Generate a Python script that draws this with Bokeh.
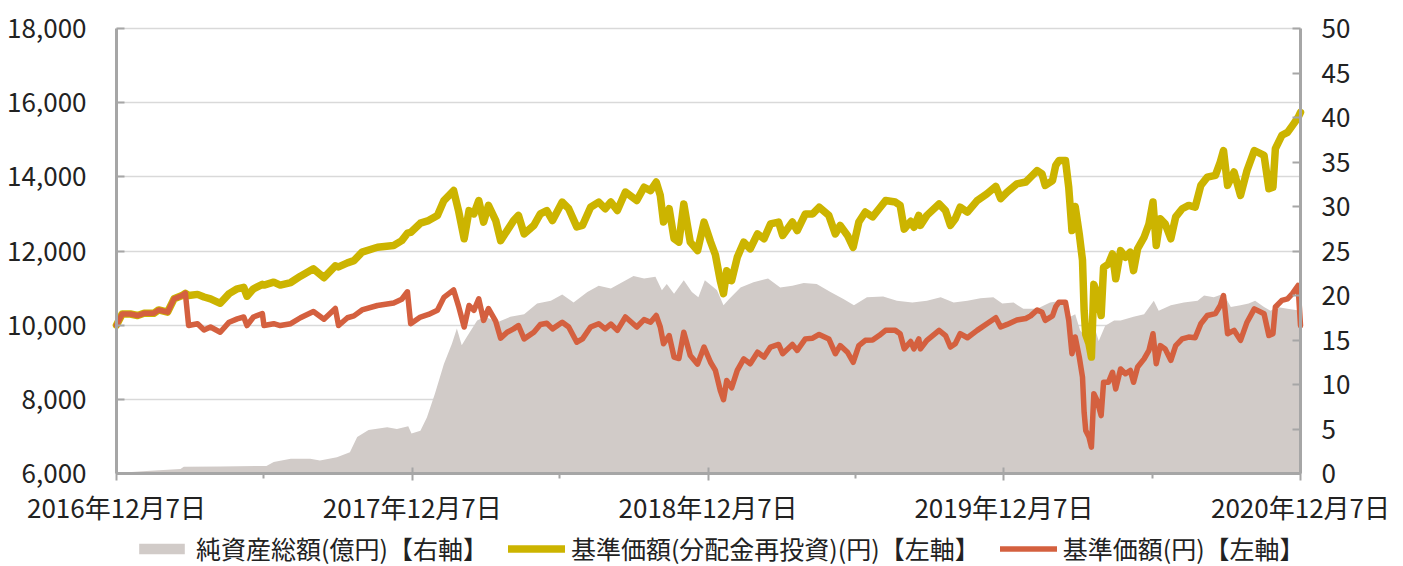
import pandas as pd
from bokeh.plotting import figure
from bokeh.models import (Range1d, LinearAxis, FixedTicker, NumeralTickFormatter,
                          Legend, LegendItem, CustomJSTickFormatter)
from bokeh.embed import file_html
from bokeh.resources import INLINE

# ---------------- data ----------------
dates = [
    "2016-12-07", "2016-12-14", "2016-12-24", "2017-01-02", "2017-01-10", "2017-01-22", "2017-01-28",
    "2017-02-08", "2017-02-16", "2017-02-26", "2017-03-02", "2017-03-06", "2017-03-17", "2017-03-25",
    "2017-04-02", "2017-04-14", "2017-04-25", "2017-05-05", "2017-05-13", "2017-05-17", "2017-05-25",
    "2017-06-05", "2017-06-07", "2017-06-19", "2017-06-27", "2017-07-10", "2017-07-22", "2017-08-07",
    "2017-08-20", "2017-09-03", "2017-09-07", "2017-09-18", "2017-09-26", "2017-10-06", "2017-10-25",
    "2017-11-14", "2017-11-24", "2017-12-01", "2017-12-05", "2017-12-17", "2017-12-27", "2018-01-07",
    "2018-01-15", "2018-01-27", "2018-02-02", "2018-02-09", "2018-02-15", "2018-02-21", "2018-02-27",
    "2018-03-05", "2018-03-11", "2018-03-20", "2018-03-26", "2018-04-03", "2018-04-11", "2018-04-17",
    "2018-04-24", "2018-05-06", "2018-05-14", "2018-05-22", "2018-05-29", "2018-06-10", "2018-06-18",
    "2018-06-28", "2018-07-05", "2018-07-15", "2018-07-25", "2018-08-02", "2018-08-09", "2018-08-17",
    "2018-08-27", "2018-09-10", "2018-09-19", "2018-09-27", "2018-10-04", "2018-10-09", "2018-10-13",
    "2018-10-20", "2018-10-26", "2018-11-01", "2018-11-07", "2018-11-15", "2018-11-24", "2018-12-02",
    "2018-12-10", "2018-12-16", "2018-12-22", "2018-12-26", "2018-12-30", "2019-01-05", "2019-01-12",
    "2019-01-20", "2019-01-28", "2019-02-06", "2019-02-14", "2019-02-22", "2019-03-04", "2019-03-09",
    "2019-03-21", "2019-03-27", "2019-04-06", "2019-04-15", "2019-04-23", "2019-05-05", "2019-05-13",
    "2019-05-19", "2019-05-28", "2019-06-04", "2019-06-11", "2019-06-19", "2019-06-28", "2019-07-06",
    "2019-07-14", "2019-07-26", "2019-08-01", "2019-08-06", "2019-08-14", "2019-08-18", "2019-08-24",
    "2019-08-26", "2019-09-03", "2019-09-18", "2019-09-26", "2019-10-02", "2019-10-08", "2019-10-14",
    "2019-10-23", "2019-11-04", "2019-11-16", "2019-11-27", "2019-12-03", "2019-12-11", "2019-12-23",
    "2020-01-03", "2020-01-09", "2020-01-17", "2020-01-23", "2020-01-27", "2020-02-05", "2020-02-09",
    "2020-02-13", "2020-02-21", "2020-02-25", "2020-02-29", "2020-03-04", "2020-03-09", "2020-03-13",
    "2020-03-15", "2020-03-17", "2020-03-21", "2020-03-24", "2020-03-27", "2020-03-31", "2020-04-05",
    "2020-04-08", "2020-04-14", "2020-04-19", "2020-04-23", "2020-04-29", "2020-05-05", "2020-05-11",
    "2020-05-15", "2020-05-20", "2020-05-28", "2020-06-03", "2020-06-08", "2020-06-12", "2020-06-17",
    "2020-06-23", "2020-06-30", "2020-07-06", "2020-07-14", "2020-07-22", "2020-07-30", "2020-08-06",
    "2020-08-14", "2020-08-24", "2020-08-30", "2020-09-03", "2020-09-08", "2020-09-16", "2020-09-24",
    "2020-10-02", "2020-10-11", "2020-10-23", "2020-10-29", "2020-11-03", "2020-11-06", "2020-11-14",
    "2020-11-21", "2020-11-27", "2020-12-04", "2020-12-07",
]

# 基準価額(分配金再投資)(円)
nav_reinvested = [
    10000, 10300, 10300, 10260, 10320, 10320, 10410,
    10350, 10710, 10800, 10860, 10800, 10830, 10760,
    10710, 10590, 10850, 10980, 11020, 10780, 10980,
    11100, 11080, 11160, 11080, 11150, 11320, 11520,
    11280, 11600, 11570, 11680, 11740, 11970, 12100,
    12150, 12280, 12480, 12500, 12750, 12820, 12960,
    13360, 13630, 13090, 12330, 13090, 13000, 13360,
    12780, 13230, 12820, 12280, 12550, 12820, 12960,
    12460, 12690, 13000, 13090, 12820, 13320, 13140,
    12650, 12690, 13180, 13320, 13140, 13320, 13090,
    13590, 13360, 13720, 13630, 13860, 13500, 12780,
    13140, 12330, 12240, 13270, 12240, 12010, 12780,
    12250, 11900, 11200, 10850, 11470, 11200, 11830,
    12240, 12060, 12460, 12330, 12730, 12780, 12420,
    12780, 12550, 13000, 13000, 13180, 12960, 12460,
    12690, 12420, 12100, 12780, 13050, 12920, 13140,
    13360, 13320, 13230, 12590, 12800, 12640, 12960,
    12690, 12960, 13270, 13090, 12690, 12870, 13180,
    13050, 13360, 13540, 13740, 13410, 13590, 13810,
    13860, 13990, 14170, 14080, 13770, 13900, 14310,
    14440, 14440, 13720, 12550, 13200, 12460, 11750,
    10400, 9750, 9500, 9140, 11100, 10850, 10260,
    11560, 11650, 11920, 11250, 12010, 11830, 11970,
    11470, 12060, 12370, 12730, 13320, 12150, 12870,
    12730, 12330, 12920, 13140, 13230, 13180, 13770,
    13990, 14040, 14400, 14710, 13770, 14130, 13500,
    14170, 14710, 14580, 13680, 13720, 14760, 15120,
    15200, 15380, 15600, 15740,
]

# 基準価額(円)
nav = [
    10000, 10300, 10300, 10260, 10320, 10320, 10410,
    10350, 10710, 10800, 10860, 9990, 10040, 9870,
    9950, 9810, 10080, 10170, 10220, 9990, 10220,
    10310, 9990, 10040, 9990, 10040, 10200, 10370,
    10160, 10450, 9990, 10200, 10250, 10410, 10530,
    10600, 10700, 10900, 10040, 10220, 10290, 10400,
    10750, 10950, 10520, 9950, 10530, 10400, 10710,
    10130, 10450, 10100, 9650, 9810, 9900, 9990,
    9630, 9810, 10020, 10050, 9900, 10080, 9950,
    9540, 9630, 9950, 10040, 9900, 10030, 9860,
    10220, 9950, 10150, 10080, 10260, 9950, 9500,
    9720, 9140, 9100, 9810, 9180, 8950, 9410,
    9000, 8780, 8240, 7990, 8510, 8310, 8780,
    9090, 8960, 9270, 9140, 9410, 9480, 9230,
    9480, 9320, 9630, 9650, 9750, 9630, 9230,
    9450, 9270, 9000, 9450, 9590, 9600, 9720,
    9860, 9860, 9770, 9360, 9560, 9360, 9630,
    9360, 9590, 9860, 9720, 9410, 9500, 9770,
    9660, 9860, 10040, 10200, 9950, 10020, 10140,
    10180, 10250, 10410, 10350, 10130, 10250, 10500,
    10620, 10620, 10130, 9230, 9680, 9140, 8600,
    7650, 7160, 6980, 6710, 8150, 7970, 7560,
    8460, 8460, 8730, 8280, 8820, 8690, 8780,
    8460, 8870, 9090, 9320, 9770, 8960, 9450,
    9360, 9050, 9450, 9630, 9680, 9660, 10040,
    10260, 10310, 10530, 10800, 9770, 9860, 9590,
    10080, 10440, 10310, 9720, 9770, 10490, 10670,
    10710, 10850, 11070, 9990,
]

# 純資産総額(億円)
aum_dates = [
    "2016-12-07", "2017-01-18", "2017-02-24", "2017-02-28", "2017-04-14", "2017-06-02", "2017-06-10",
    "2017-06-19", "2017-07-10", "2017-08-03", "2017-08-15", "2017-09-05", "2017-09-21", "2017-09-30",
    "2017-10-14", "2017-11-06", "2017-11-18", "2017-12-02", "2017-12-06", "2017-12-17", "2017-12-25",
    "2018-01-04", "2018-01-15", "2018-01-25", "2018-01-31", "2018-02-06", "2018-02-12", "2018-02-25",
    "2018-03-07", "2018-03-22", "2018-04-07", "2018-04-24", "2018-05-10", "2018-05-27", "2018-06-10",
    "2018-06-24", "2018-07-11", "2018-07-25", "2018-08-09", "2018-08-23", "2018-09-06", "2018-09-19",
    "2018-10-03", "2018-10-11", "2018-10-17", "2018-10-26", "2018-11-07", "2018-11-17", "2018-11-25",
    "2018-12-03", "2018-12-14", "2018-12-18", "2018-12-26", "2019-01-02", "2019-01-16", "2019-02-01",
    "2019-02-19", "2019-03-06", "2019-03-21", "2019-04-04", "2019-04-20", "2019-05-07", "2019-05-23",
    "2019-06-05", "2019-06-21", "2019-07-11", "2019-07-28", "2019-08-16", "2019-09-03", "2019-09-20",
    "2019-10-06", "2019-10-23", "2019-11-08", "2019-11-24", "2019-12-05", "2019-12-19", "2019-12-31",
    "2020-01-17", "2020-02-02", "2020-02-15", "2020-02-21", "2020-02-27", "2020-03-04", "2020-03-10",
    "2020-03-17", "2020-03-23", "2020-03-29", "2020-04-02", "2020-04-10", "2020-04-21", "2020-04-29",
    "2020-05-15", "2020-05-28", "2020-06-09", "2020-06-15", "2020-06-30", "2020-07-16", "2020-08-02",
    "2020-08-10", "2020-08-22", "2020-09-03", "2020-09-12", "2020-09-24", "2020-10-04", "2020-10-12",
    "2020-10-23", "2020-10-31", "2020-11-08", "2020-11-21", "2020-12-07",
]
aum = [
    0.05, 0.3, 0.5, 0.75, 0.8, 0.85, 0.85,
    1.3, 1.65, 1.65, 1.46, 1.83, 2.4, 4.1,
    4.9, 5.2, 5.0, 5.3, 4.5, 4.8, 6.3,
    9.0, 12.3, 14.6, 16.3, 14.4, 15.3, 17.2,
    17.6, 17.0, 17.6, 17.9, 19.1, 19.4, 20.1,
    19.2, 20.4, 21.1, 20.8, 21.5, 22.2, 21.9,
    22.1, 20.6, 21.3, 20.2, 21.7, 20.4, 19.8,
    21.7, 20.9, 20.6, 18.9, 19.6, 20.9, 21.5,
    21.9, 20.9, 21.1, 21.4, 21.3, 20.4, 19.6,
    18.9, 19.8, 19.9, 19.4, 19.2, 19.4, 19.8,
    19.2, 19.4, 19.7, 19.8, 19.1, 19.2, 18.5,
    18.5, 19.2, 19.4, 19.1, 17.6, 17.9, 16.1,
    15.3, 14.8, 16.1, 14.9, 16.6, 17.2, 17.2,
    17.6, 17.9, 19.4, 18.3, 18.9, 19.2, 19.4,
    20.0, 19.8, 20.2, 18.7, 18.9, 19.1, 19.4,
    18.7, 18.3, 18.7, 18.5, 18.3,
]

x_start, x_end = "2016-12-07", "2020-12-07"
x_major = ["2016-12-07", "2017-12-07", "2018-12-07", "2019-12-07", "2020-12-07"]
x_major_labels = ["2016年12月7日", "2017年12月7日", "2018年12月7日", "2019年12月7日", "2020年12月7日"]
x_minor = ["2017-06-07", "2018-06-07", "2019-06-07", "2020-06-07"]
left_ticks = [6000, 8000, 10000, 12000, 14000, 16000, 18000]
right_ticks = [0, 5, 10, 15, 20, 25, 30, 35, 40, 45, 50]
series_labels = ["純資産総額(億円)【右軸】", "基準価額(分配金再投資)(円)【左軸】", "基準価額(円)【左軸】"]

# ---------------- layout / styling ----------------
FONT = "Noto Sans CJK JP"
TEXT = "#222222"
AXIS = "#A6A6A6"
GRID = "#D9D9D9"
C_AREA = "#D1CBC8"
C_YEL = "#CCB400"
C_RED = "#D4603F"

W, H = 1403, 566
TOP, LEFT, RIGHT = 28, 116, 103   # margins around the plotting area (px)
PLOT_W = W - LEFT - RIGHT
PLOT_H = 445
BELOW = H - TOP - PLOT_H


def ms(d):
    return float(pd.Timestamp(d).value // 10**6)


# The frame covers the whole canvas; ranges are widened so that the
# data area sits at the same place as in the original chart and all the
# tick labels and the legend lie inside the frame.
xs, xe = ms(x_start), ms(x_end)
span = xe - xs
x_lo, x_hi = xs - span * LEFT / PLOT_W, xe + span * RIGHT / PLOT_W
l0, l1 = left_ticks[0], left_ticks[-1]
r0, r1 = right_ticks[0], right_ticks[-1]
l_lo, l_hi = l0 - (l1 - l0) * BELOW / PLOT_H, l1 + (l1 - l0) * TOP / PLOT_H
r_lo, r_hi = r0 - (r1 - r0) * BELOW / PLOT_H, r1 + (r1 - r0) * TOP / PLOT_H

x = pd.to_datetime(dates)
xa = pd.to_datetime(aum_dates)

p = figure(x_axis_type="datetime", frame_width=W, frame_height=H,
           x_range=Range1d(x_lo, x_hi), y_range=Range1d(l_lo, l_hi),
           output_backend="svg", toolbar_location=None,
           min_border_left=0, min_border_right=0, min_border_top=0, min_border_bottom=0)
p.outline_line_color = None
p.background_fill_color = "white"
p.border_fill_color = "white"

p.extra_y_ranges = {"aum": Range1d(r_lo, r_hi)}
raxis = LinearAxis(y_range_name="aum", ticker=FixedTicker(ticks=right_ticks), bounds=(r0, r1))
p.add_layout(raxis, "right")

area = p.varea(x=xa, y1=0, y2=aum, y_range_name="aum", fill_color=C_AREA, fill_alpha=1.0)
yl = p.line(x, nav_reinvested, line_color=C_YEL, line_width=7.5, line_join="round", line_cap="round")
rl = p.line(x, nav, line_color=C_RED, line_width=5.5, line_join="round", line_cap="round")

# grid (horizontal lines only, limited to the plotting area)
p.xgrid.visible = False
p.ygrid.ticker = FixedTicker(ticks=left_ticks)
p.ygrid.bounds = (l0, l1)
try:
    p.ygrid.cross_bounds = (xs, xe)
except Exception:
    pass
p.ygrid.grid_line_color = GRID
p.ygrid.grid_line_width = 1.5

# left axis
lax = p.yaxis[0]
lax.ticker = FixedTicker(ticks=left_ticks)
lax.formatter = NumeralTickFormatter(format="0,0")
lax.bounds = (l0, l1)
lax.fixed_location = xs
lax.major_label_standoff = 30

raxis.fixed_location = xe
raxis.major_label_standoff = 21

for ax in (lax, raxis):
    ax.major_tick_in = 8
    ax.major_tick_out = 0
    ax.minor_tick_line_color = None

# x axis, pinned at the 6,000 line
xax = p.xaxis[0]
xax.fixed_location = l0
xax.bounds = (xs, xe)
xax.ticker = FixedTicker(ticks=[ms(d) for d in x_major], minor_ticks=[ms(d) for d in x_minor])
xax.formatter = CustomJSTickFormatter(
    args=dict(major_pos=[ms(d) for d in x_major], major_txt=x_major_labels),
    code="""
    for (let i = 0; i < major_pos.length; i++) {
        if (Math.abs(major_pos[i] - tick) < 1000) { return major_txt[i]; }
    }
    return "";
    """)
xax.major_tick_in = 6
xax.major_tick_out = 7
xax.minor_tick_in = 0
xax.minor_tick_out = 5
xax.minor_tick_line_color = AXIS
xax.minor_tick_line_width = 2
xax.major_label_standoff = 7

for ax in (lax, raxis, xax):
    ax.axis_line_color = AXIS
    ax.axis_line_width = 3
    ax.major_tick_line_color = AXIS
    ax.major_tick_line_width = 2
    ax.major_label_text_font = FONT
    ax.major_label_text_font_size = "26px"
    ax.major_label_text_color = TEXT

legend = Legend(items=[LegendItem(label=series_labels[0], renderers=[area]),
                       LegendItem(label=series_labels[1], renderers=[yl]),
                       LegendItem(label=series_labels[2], renderers=[rl])],
                orientation="horizontal", location=(133, 0),
                label_text_font=FONT, label_text_font_size="25px", label_text_color=TEXT,
                glyph_width=57, glyph_height=13, label_standoff=6, spacing=20,
                padding=0, margin=0, border_line_alpha=0, background_fill_alpha=0)
p.add_layout(legend)

open("out.html", "w").write(file_html(p, INLINE))
